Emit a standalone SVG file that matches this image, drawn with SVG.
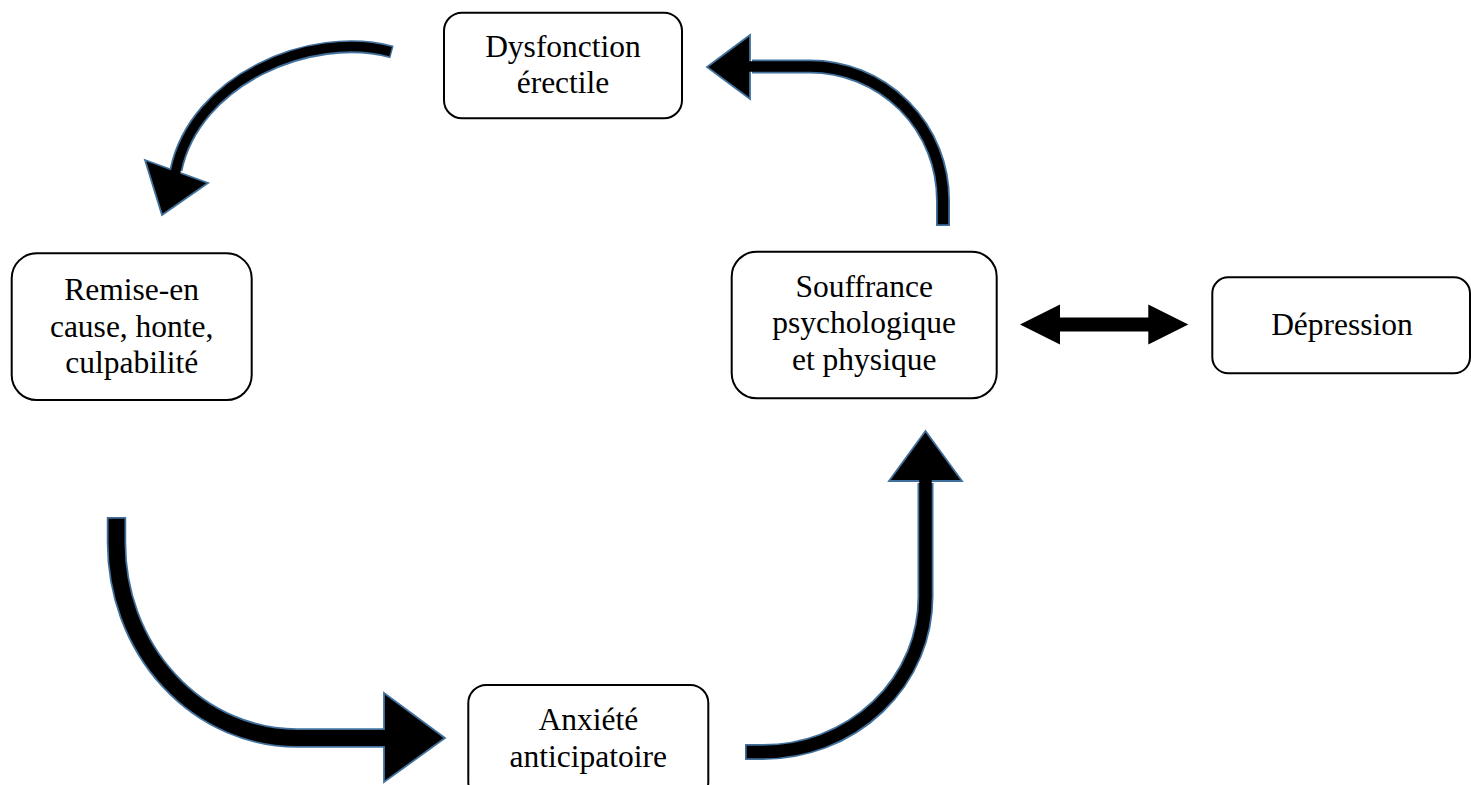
<svg xmlns="http://www.w3.org/2000/svg" width="1471" height="785" viewBox="0 0 1471 785">
<style>
.box{fill:#fff;stroke:#000;stroke-width:2}
.t{font-family:"Liberation Serif","Times New Roman",serif;font-size:31.5px;fill:#000;text-anchor:middle}
.ob{fill:none;stroke:#41719C}
.ib{fill:none;stroke:#000}
.hd{fill:#000;stroke:#41719C;stroke-width:1.8;stroke-linejoin:miter}
</style>
<rect width="1471" height="785" fill="#fff"/>
<g id="connectors">
  <g id="arrow-dys-remise">
    <path class="ob" stroke-width="13" d="M392,52 C310,30 195,80 176,170"/>
    <polygon class="hd" points="145,160 208,183 162,215"/>
    <path class="ib" stroke-width="9.5" d="M390.6,51.6 C310,30 195,80 176,170 L175,176"/>
  </g>
  <g id="arrow-souf-dys">
    <path class="ob" stroke-width="14" d="M943,226 L943,200 A133,133.5 0 0 0 810,66.5 L752,66.5"/>
    <polygon class="hd" points="750,35 707,67 750,99"/>
    <path class="ib" stroke-width="10.5" d="M943,224.3 L943,200 A133,133.5 0 0 0 810,66.5 L746,66.5"/>
  </g>
  <g id="arrow-remise-anx">
    <path class="ob" stroke-width="19.5" d="M116.5,517 L116.5,543 A180.5,195 0 0 0 297,738 L386,738"/>
    <polygon class="hd" points="384,693 445,738 384,782"/>
    <path class="ib" stroke-width="16" d="M116.5,518.7 L116.5,543 A180.5,195 0 0 0 297,738 L390,738"/>
  </g>
  <g id="arrow-anx-souf">
    <path class="ob" stroke-width="16" d="M745,752 L763,752 A162.5,155 0 0 0 925.5,597 L925.5,483"/>
    <polygon class="hd" points="889,481 925.5,431 962,481"/>
    <path class="ib" stroke-width="12.5" d="M746.7,752 L763,752 A162.5,155 0 0 0 925.5,597 L925.5,477"/>
  </g>
  <g id="arrow-souf-dep">
    <polygon fill="#000" points="1020,324.5 1060,304.5 1060,317.5 1148.3,317.5 1148.3,304.5 1188.3,324.5 1148.3,344.5 1148.3,331.5 1060,331.5 1060,344.5"/>
  </g>
</g>
<g id="node-dysfonction">
  <rect class="box" x="444" y="12.7" width="238" height="105.6" rx="18"/>
  <text class="t" x="563" y="56.7">Dysfonction</text>
  <text class="t" x="563" y="92.7">érectile</text>
</g>
<g id="node-remise">
  <rect class="box" x="11.7" y="253.3" width="240" height="146.7" rx="25"/>
  <text class="t" x="131.7" y="300">Remise-en</text>
  <text class="t" x="131.7" y="336.7">cause, honte,</text>
  <text class="t" x="131.7" y="373.3">culpabilité</text>
</g>
<g id="node-souffrance">
  <rect class="box" x="731.7" y="251.7" width="265" height="146.6" rx="25"/>
  <text class="t" x="864.2" y="296.7">Souffrance</text>
  <text class="t" x="864.2" y="333.3">psychologique</text>
  <text class="t" x="864.2" y="370">et physique</text>
</g>
<g id="node-depression">
  <rect class="box" x="1212.3" y="277.3" width="257.7" height="96" rx="16"/>
  <text class="t" x="1342" y="335">Dépression</text>
</g>
<g id="node-anxiete">
  <rect class="box" x="468.3" y="685" width="240" height="115" rx="18"/>
  <text class="t" x="588.3" y="730">Anxiété</text>
  <text class="t" x="588.3" y="766.7">anticipatoire</text>
</g>
</svg>
